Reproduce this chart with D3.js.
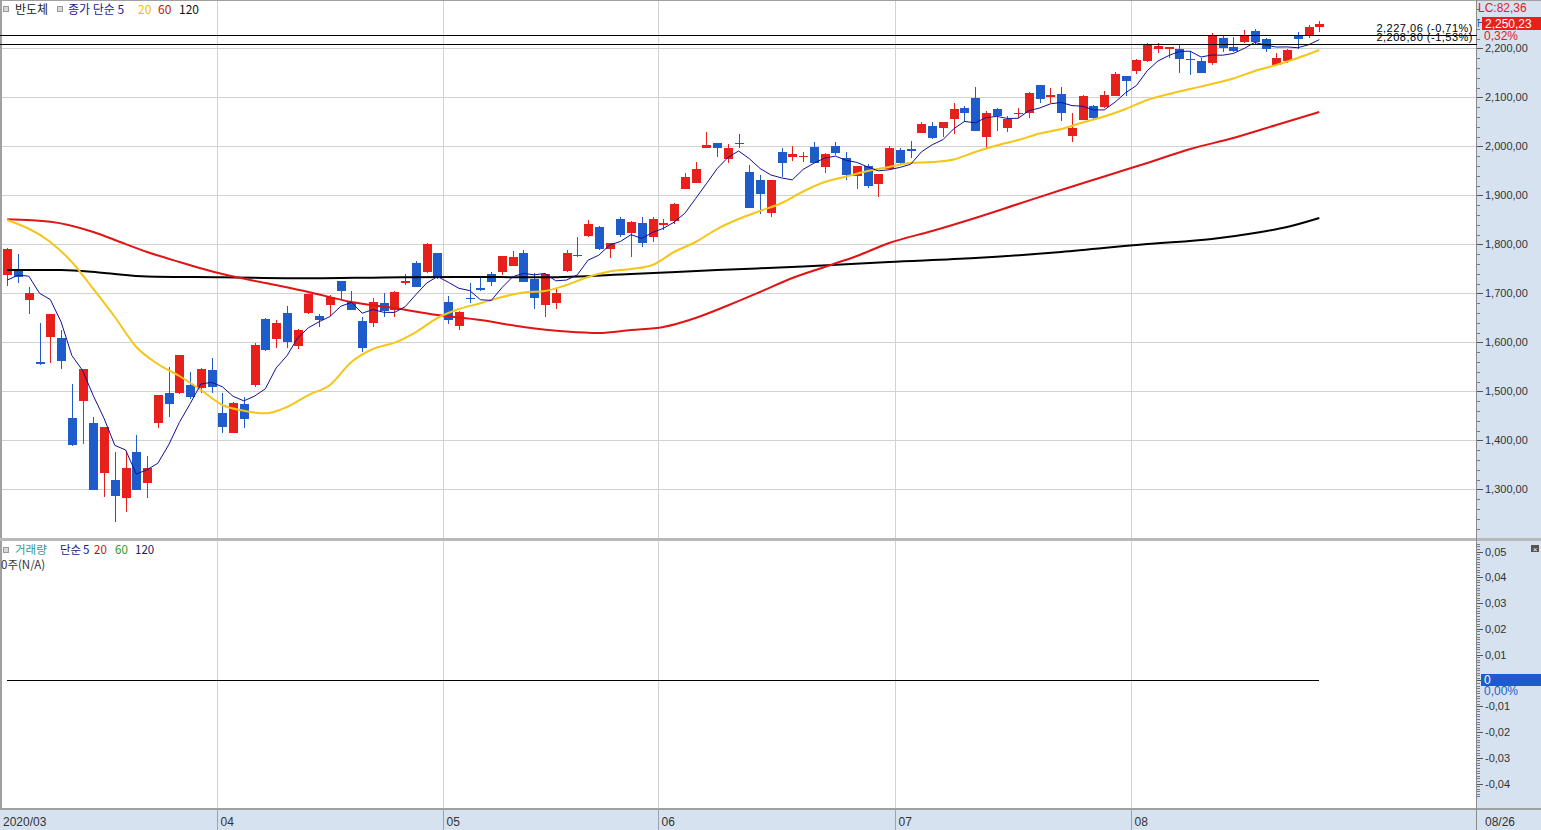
<!DOCTYPE html>
<html><head><meta charset="utf-8">
<script src="https://cdn.jsdelivr.net/npm/d3@7"></script>
<style>body{margin:0;background:#fff;overflow:hidden}svg{display:block}text{font-family:"Liberation Sans",Arial,sans-serif}</style>
</head><body>
<svg id="c" width="1541" height="830"></svg>
<script>
// ---------- data ----------
const opens=[1737,1745.5,1686.3,1559.8,1611.4,1608.8,1444.9,1480.8,1435.3,1333.9,1319,1282.5,1375.5,1313.5,1434.7,1496,1497.1,1512.9,1506,1543.5,
1455,1415.5,1473.5,1512.9,1647.6,1607.3,1659.2,1592.4,1660.4,1654.3,1676,1725,1682.9,1644,1640,1680.8,1666,1720.4,1762.4,1744,1781.6,
1682.9,1633.9,1690.5,1710.2,1738.8,1744,1756.3,1782.9,1728.6,1676,1680.8,1745.5,1778.8,1817,1834.7,1789.8,1851,1822.4,1842.9,1815.5,
1839.4,1848.2,1912.9,1925.7,1997.1,2006.1,1973.5,2006.1,1948.2,1931.2,1864.5,1987.7,1977.5,1978.2,1998,1958.4,2000.6,1975.5,1939.4,1959.8,1923,1953,
1992.4,1993.9,2027.8,2041.4,2036.7,2055.1,2077.5,2097.9,2019.6,2075.5,2036.7,2065.9,2068.6,2125.1,2100,2106.7,2021,2053.7,2082.2,2080.8,2102.7,2143.5,
2154.3,2174.7,2198,2198,2198,2178.8,2174.7,2169.4,2220.4,2202,2213.5,2235.3,2218.4,2165.9,2174.7,2225.1,2225.1,2242.9];
const highs=[1792,1780,1712,1638.8,1658,1625,1514.9,1546,1447,1427,1375.5,1378.8,1410.8,1368,1493,1550,1575,1540,1547,1567.3,
1497,1478,1487.8,1598,1649,1645.5,1674,1626.5,1699,1657,1696.5,1725.5,1704.7,1651,1689.8,1700,1704.7,1739.4,1766,1802,1783,
1694.5,1663,1720.4,1733.9,1744,1777,1787,1788.4,1742,1740,1708,1788.4,1815.5,1849.6,1837.3,1803,1855,1848,1856.3,1856.3,
1851,1885,1946,1967.3,2028.6,2006.5,2004.7,2025.1,1961.8,1941.4,1932,1995.9,2000.6,1989,2008.2,1985.7,2008.2,1987.7,1960,1963.3,1944,2000.6,
1995.9,2010.8,2050.2,2050.2,2049.5,2089,2082.2,2121.6,2072,2077.5,2061.8,2077.5,2111.4,2125.5,2118.4,2121.6,2068.6,2104.7,2084.3,2112.9,2151.6,2144,
2177.5,2210,2210.2,2203.4,2208.8,2195.1,2179.6,2230.6,2225.1,2223.7,2237.3,2238.6,2220.4,2191,2198,2233.9,2247.5,2255.7];
const lows=[1715,1720.4,1657,1554.3,1558.4,1544.9,1388.4,1392.4,1298,1283.7,1233.9,1254.3,1298,1281.6,1425.7,1448,1494,1483.7,1496,1497,
1414.3,1414,1425.7,1508,1582,1589,1587.8,1585.7,1657,1630.6,1653.7,1686.3,1666,1580.8,1630.6,1651,1651,1717,1712,1742,1728.6,
1637.3,1625,1679.6,1704.7,1714.9,1737.3,1756,1723,1667.3,1651,1667.3,1742.9,1773.5,1815.5,1788.4,1771.4,1814.3,1773.5,1795,1805.3,
1829.2,1841.4,1913,1924.5,1995.9,1977.5,1966.5,1995.9,1874,1861.2,1856.3,1938,1970.6,1968.6,1965,1946.1,1982.2,1931.2,1912.9,1914.3,1897.1,1953,
1963.9,1975.5,2026.5,2014.3,2018.4,2025.1,2050.2,2031,1993.9,2031.8,2029.8,2057.1,2057.1,2087.8,2087.8,2052.2,2009.4,2053,2055.1,2077.5,2102,2102.7,
2147.5,2172.6,2191,2179.6,2150.2,2145.5,2149,2165.9,2193,2193,2210.2,2208.8,2193,2163.9,2170.6,2198,2220.4,2233.9];
const closes=[1790,1732.7,1700,1555.7,1657.8,1562.4,1390.4,1545.5,1298.6,1426.5,1286.9,1344,1298.6,1344,1492.4,1473.5,1574,1489,1545.5,1509.4,
1427.8,1476.7,1442.9,1594.5,1584.3,1640,1600.6,1625,1698.6,1645.5,1693,1704.7,1666,1587.8,1682.9,1664.5,1703.3,1725,1712.2,1800,1730.6,
1645.5,1662.4,1689,1706.7,1723.7,1776,1773.5,1723.7,1691,1738.8,1700,1781.6,1776.1,1841.4,1789.8,1802,1819,1846,1803.3,1851,
1843.5,1881.6,1936.7,1953,2002.6,1997.1,1995.9,2003.7,1874.7,1902,1931.2,1965.3,1984.3,1981.2,1965.3,1983.7,1985.7,1941.4,1959.8,1919,1943.5,1997.1,
1965.3,1991.4,2045.5,2016.3,2049,2075.5,2067.3,2031.8,2068.6,2061.8,2055.1,2068.6,2109.4,2095.9,2104.7,2068.6,2036.7,2102.7,2058.4,2104.7,2147.5,2133.9,
2176.1,2208.8,2204.7,2202.1,2177.5,2176.7,2150.2,2225.1,2200,2195.1,2227.1,2212.8,2198,2179.6,2196.5,2219,2243,2250.23];
// first four 5-day averages (their earlier closes are off the chart)
const ma5Head=[1727,1737,1735,1700];
// [trading-day index, value]
const ma20Pts=[[0,1849.6],[4,1804.7],[6,1763.9],[8,1708.8],[10,1651.6],[12,1590.4],[14,1555.7],[16,1531.2],[18,1502.7],[20,1472],[22,1460.4],[24,1455],
[26,1467.9],[28,1492.4],[30,1512.9],[32,1559.8],[34,1586.3],[36,1599.2],[38,1621],[40,1649.6],[42,1667.9],[44,1679.6],[46,1692.4],[48,1701.6],[50,1704.7],
[52,1716.9],[54,1733.3],[56,1744.5],[58,1749.6],[60,1757.8],[62,1784.3],[64,1804.7],[66,1831.2],[68,1851.6],[70,1868],[72,1884.3],[74,1907.8],[76,1927.1],
[78,1938.4],[80,1949.6],[82,1957.8],[84,1965.9],[86,1968],[88,1973],[90,1988.4],[92,2001.6],[94,2012.9],[96,2026.1],[98,2035.3],[100,2048.6],[102,2060.8],
[104,2076.1],[106,2094.5],[108,2106.7],[110,2117],[112,2127.1],[114,2138.4],[116,2153.7],[118,2165.9],[120,2180.2],[122,2196.5]];
const ma60Pts=[[0,1851],[4,1846.1],[8,1825.1],[10,1808.8],[13,1784.3],[16,1763.9],[20,1739.4],[24,1721],[28,1702.7],[32,1682.2],[36,1670],[40,1655.7],
[44,1645.5],[48,1631.2],[52,1622],[55,1619],[58,1625.1],[61,1631.2],[64,1649.6],[67,1675.1],[70,1702.7],[73,1731.2],[76,1753.7],[79,1776.1],[82,1802.7],
[86,1827.1],[90,1853.7],[94,1882.2],[98,1910.8],[102,1938.4],[106,1965.9],[110,1994.5],[114,2016.9],[118,2043.5],[122,2070]];
const ma120Pts=[[0,1747.6],[5,1747.6],[9,1741.5],[13,1734.3],[20,1732.7],[28,1730.6],[35,1732.2],[42,1733.3],[50,1732.7],[58,1739.4],[66,1747.6],
[74,1754.7],[82,1763.9],[90,1772],[98,1784.3],[106,1800.6],[112,1810.8],[116,1823.1],[119,1835.3],[122,1853.7]];
const monthLabels=["2020/03","04","05","06","07","08"];
const monthStart=[0,20,41,61,83,105];
const priceTicks=[1300,1400,1500,1600,1700,1800,1900,2000,2100,2200];
const volTicks=[0.05,0.04,0.03,0.02,0.01,-0.01,-0.02,-0.03,-0.04];
const refLevels=[2227.06,2208.80];
const refPct=["-0,71%","-1,53%"];
const lastClose=2250.23, lastPct="0,32%", lcText="LC:82,36";

// ---------- setup ----------
const W=1541,H=830,AX=1476.5;
const RED="#e8201c",BLUE="#1e5ccc";
const svg=d3.select("#c");
const x=d3.scaleLinear().domain([0,122]).range([7.3,1319.3]);
const step=x(1)-x(0);
const y=d3.scaleLinear().domain([1300,2200]).range([489.3,48.3]);
const yv=d3.scaleLinear().domain([-0.04,0.05]).range([783.5,551.5]);
const fmt=v=>d3.format(",.2f")(v).replace(/\.(\d\d)$/,",$1");
const fmtV=v=>(v<0?"-":"")+Math.abs(v).toFixed(2).replace(".",",");

svg.append("rect").attr("width",W).attr("height",H).attr("fill","#fff");
svg.append("rect").attr("x",1477).attr("y",0).attr("width",64).attr("height",810).attr("fill","#d6e2ef");
svg.append("rect").attr("x",0).attr("y",810).attr("width",W).attr("height",20).attr("fill","#d6e2ef");

const g=svg.append("g").attr("shape-rendering","crispEdges");
g.selectAll(".hg").data(priceTicks).join("line")
 .attr("x1",0).attr("x2",AX).attr("y1",d=>Math.round(y(d))+0.5).attr("y2",d=>Math.round(y(d))+0.5)
 .attr("stroke","#d2d2d2");
const mx=i=>Math.round(x(i)-step/2)+0.5;
g.selectAll(".vg").data(monthStart.slice(1)).join("line")
 .attr("x1",mx).attr("x2",mx).attr("y1",0).attr("y2",538).attr("stroke","#d2d2d2");
g.selectAll(".vg2").data(monthStart.slice(1)).join("line")
 .attr("x1",mx).attr("x2",mx).attr("y1",541).attr("y2",808).attr("stroke","#d2d2d2");
g.selectAll(".vg3").data(monthStart.slice(1)).join("line")
 .attr("x1",mx).attr("x2",mx).attr("y1",810).attr("y2",830).attr("stroke","#9aa4b0");

g.append("rect").attr("x",0).attr("y",0).attr("width",2).attr("height",810).attr("fill","#a0a0a0");
g.append("line").attr("x1",0).attr("x2",W).attr("y1",0.5).attr("y2",0.5).attr("stroke","#a0a0a0");
g.append("rect").attr("x",0).attr("y",538).attr("width",W).attr("height",3).attr("fill","#b8b8b8");
g.append("rect").attr("x",0).attr("y",808).attr("width",W).attr("height",2).attr("fill","#a0a0a0");
g.append("line").attr("x1",AX).attr("x2",AX).attr("y1",0).attr("y2",830).attr("stroke","#8a8a8a");

// ---------- candles ----------
const idx=d3.range(closes.length);
const cg=svg.append("g").attr("shape-rendering","crispEdges");
idx.forEach(i=>{
  const o=opens[i],c=closes[i],h=highs[i],l=lows[i];
  const col=c>=o?RED:BLUE;
  const cx=Math.round(x(i));
  cg.append("rect").attr("x",cx).attr("width",1)
    .attr("y",Math.round(y(h))).attr("height",Math.max(1,Math.round(y(l))-Math.round(y(h))))
    .attr("fill",col);
  const t=Math.round(y(Math.max(o,c))),b=Math.round(y(Math.min(o,c)));
  cg.append("rect").attr("x",cx-4).attr("width",9)
    .attr("y",t).attr("height",Math.max(1,b-t)).attr("fill",col);
});

// ---------- moving averages ----------
const ma5=idx.map(i=>i<4?[i,ma5Head[i]]:[i,d3.mean(closes.slice(i-4,i+1))]);
const lineL=d3.line().x(d=>x(d[0])).y(d=>y(d[1]));
const lineC=d3.line().x(d=>x(d[0])).y(d=>y(d[1])).curve(d3.curveMonotoneX);
svg.append("path").attr("d",lineC(ma120Pts)).attr("fill","none").attr("stroke","#000").attr("stroke-width",2);
svg.append("path").attr("d",lineC(ma60Pts)).attr("fill","none").attr("stroke","#e01414").attr("stroke-width",2);
svg.append("path").attr("d",lineC(ma20Pts)).attr("fill","none").attr("stroke","#f5c518").attr("stroke-width",2);
svg.append("path").attr("d",lineL(ma5)).attr("fill","none").attr("stroke","#101098").attr("stroke-width",1);

// ---------- reference lines ----------
refLevels.forEach((v,k)=>{
  const yy=Math.round(y(v))+0.5;
  svg.append("line").attr("x1",0).attr("x2",AX).attr("y1",yy).attr("y2",yy).attr("stroke","#000").attr("shape-rendering","crispEdges");
  svg.append("text").attr("x",1473).attr("y",yy-4).attr("text-anchor","end").attr("font-size",11)
    .attr("letter-spacing",0.5).attr("fill","#000")
    .text(fmt(v)+" ("+refPct[k]+")");
});

// ---------- price axis ----------
const ag=svg.append("g").attr("shape-rendering","crispEdges");
const minor=d3.range(1200,2300,20).filter(v=>v%100!==0&&y(v)>2&&y(v)<537);
ag.selectAll(".mt").data(minor).join("line").attr("x1",1477).attr("x2",1480)
  .attr("y1",d=>Math.round(y(d))+0.5).attr("y2",d=>Math.round(y(d))+0.5).attr("stroke","#7a7a7a");
ag.selectAll(".Mt").data(priceTicks).join("line").attr("x1",1477).attr("x2",1483)
  .attr("y1",d=>Math.round(y(d))+0.5).attr("y2",d=>Math.round(y(d))+0.5).attr("stroke","#555");
svg.selectAll(".pl").data(priceTicks).join("text").attr("x",1485).attr("y",d=>y(d)+4)
  .attr("font-size",11).attr("fill","#333").text(d=>fmt(d));

// top-right current value
svg.append("text").attr("x",1478).attr("y",12).attr("font-size",12).attr("fill","#e02020").text(lcText);
svg.append("text").attr("x",1477).attr("y",27).attr("font-size",10).attr("fill","#1e5ccc").text("H");
svg.append("rect").attr("x",1482).attr("y",Math.round(y(lastClose))-7).attr("width",59).attr("height",13).attr("fill",RED);
svg.append("text").attr("x",1485).attr("y",Math.round(y(lastClose))+4).attr("font-size",12).attr("fill","#fff").text(fmt(lastClose));
svg.append("text").attr("x",1484).attr("y",40).attr("font-size",12).attr("fill","#e02020").text(lastPct);

// ---------- legend ----------
function box(xx,yy){svg.append("rect").attr("x",xx+0.5).attr("y",yy+0.5).attr("width",5).attr("height",5).attr("fill","#d8d8d8").attr("stroke","#999").attr("shape-rendering","crispEdges");}
const KR='"Noto Sans CJK KR","Noto Sans",sans-serif';
function lab(xx,yy,t,col,fs){svg.append("text").attr("x",xx).attr("y",yy).attr("font-size",fs||12).style("font-family",KR).attr("fill",col).text(t);}
box(3,6);box(57,6);
lab(15,14,"반도체","#222");
lab(68,14,"종가 단순 5","#1a1a8c");
lab(138,14,"20","#f0c000");
lab(158,14,"60","#c81010");
lab(179,14,"120","#111");

// ---------- volume panel ----------
box(3,547);
lab(15,554,"거래량","#2a9a90",11.5);
lab(60,554,"단순","#1a1a8c",11.5);
lab(83,554,"5","#1a1a8c",11.5);
lab(94,554,"20","#c81010",11.5);
lab(115,554,"60","#2a9a2a",11.5);
lab(135,554,"120","#1a1a5c",11.5);
lab(1,569,"0주(N/A)","#333",11.5);
svg.append("line").attr("x1",x(0)).attr("x2",x(122)).attr("y1",Math.round(yv(0))+0.5).attr("y2",Math.round(yv(0))+0.5)
  .attr("stroke","#000").attr("shape-rendering","crispEdges");
const vminor=d3.range(-45,56,1).map(v=>v/1000).filter(v=>Math.round(v*1000)%10!==0&&yv(v)>542&&yv(v)<807);
ag.selectAll(".vmt").data(vminor).join("line").attr("x1",1477).attr("x2",1480)
  .attr("y1",d=>Math.round(yv(d))+0.5).attr("y2",d=>Math.round(yv(d))+0.5).attr("stroke","#7a7a7a");
ag.selectAll(".vMt").data(volTicks.concat([0])).join("line").attr("x1",1477).attr("x2",1483)
  .attr("y1",d=>Math.round(yv(d))+0.5).attr("y2",d=>Math.round(yv(d))+0.5).attr("stroke","#555");
svg.selectAll(".vl").data(volTicks).join("text").attr("x",1485).attr("y",d=>yv(d)+4)
  .attr("font-size",11).attr("fill","#333").text(d=>fmtV(d));
svg.append("rect").attr("x",1481).attr("y",Math.round(yv(0))-6).attr("width",60).attr("height",12).attr("fill",BLUE);
svg.append("text").attr("x",1484).attr("y",yv(0)+4).attr("font-size",12).attr("fill","#fff").text("0");
svg.append("text").attr("x",1484).attr("y",yv(0)+15).attr("font-size",12).attr("fill","#1e5ccc").text("0,00%");
svg.append("rect").attr("x",1531).attr("y",545).attr("width",8).attr("height",7).attr("fill","#555");
svg.append("text").attr("x",1535).attr("y",551.5).attr("text-anchor","middle").attr("font-size",8).attr("fill","#fff").text("×");

// ---------- x axis labels ----------
svg.selectAll(".xl").data(monthStart).join("text")
  .attr("x",(d,i)=>i===0?3:mx(d)+3).attr("y",826).attr("font-size",12).attr("fill","#333")
  .text((d,i)=>monthLabels[i]);
svg.append("text").attr("x",1485).attr("y",826).attr("font-size",12).attr("fill","#333").text("08/26");
</script>
</body></html>
